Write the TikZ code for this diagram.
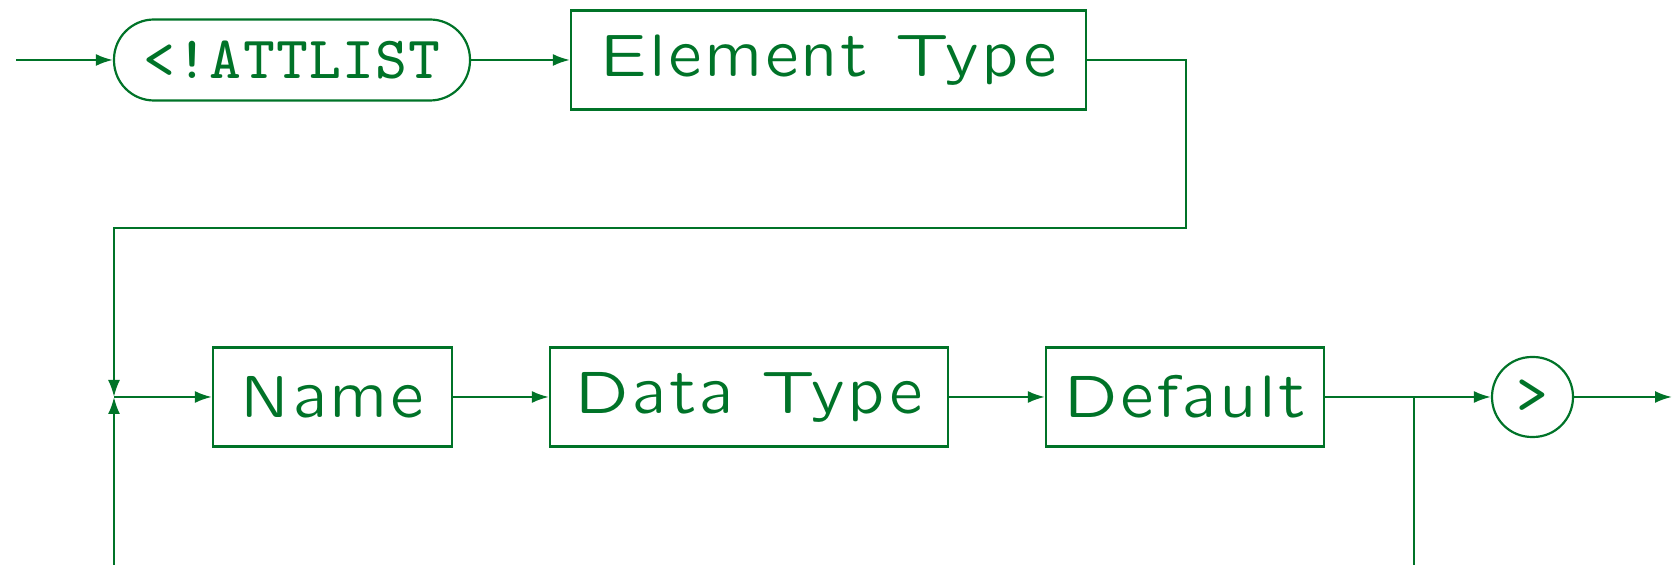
\documentclass[tikz,border=0pt]{standalone}
\usepackage{fontspec}
\usetikzlibrary{arrows.meta}
\newfontfamily\lsans{lmsansquot8-regular}[Extension=.otf, LetterSpace=4]
\newfontfamily\lmono{lmmono8-regular}[Extension=.otf, LetterSpace=2]
\definecolor{dg}{RGB}{0,115,40}
\begin{document}
\begin{tikzpicture}[x=0.5pt,y=-0.5pt,
  line/.style={draw=dg, line width=1.1pt},
  arr/.style={line, -{Latex[length=8.5pt,width=6pt]}},
  boxn/.style={draw=dg, line width=1.1pt, rectangle, inner sep=0pt, text=dg,
    font=\fontsize{30}{36}\lsans, minimum height=49.5pt},
  termn/.style={draw=dg, line width=1.1pt, rectangle, inner sep=0pt, text=dg,
    rounded corners=20pt}
]
\path[use as bounding box] (0,0) rectangle (1672,565);
\node[termn, minimum width=178pt, minimum height=40.5pt,
  font=\fontsize{30}{36}\lmono] (attlist) at (292,60) {<!ATTLIST};
\node[boxn, minimum width=257.5pt] (elem) at (828.5,60) {Element Type};
\node[boxn, minimum width=119.5pt] (name) at (332.5,397) {Name};
\node[boxn, minimum width=199pt] (dtype) at (749,397) {Data Type};
\node[boxn, minimum width=139pt] (default) at (1185,397) {Default};
\node[termn, rounded corners=19.9pt, minimum width=40.5pt, minimum height=40pt,
  font=\fontsize{30}{36}\lmono] (gt) at (1532.5,397) {>};
\coordinate (start) at (16,60);
\coordinate (jr) at (1186,60);
\coordinate (jd) at (1186,228);
\coordinate (jl) at (114,228);
\coordinate (junc) at (114,397);
\coordinate (bl) at (114,565);
\coordinate (br) at (1414,397);
\coordinate (bb) at (1414,565);
\coordinate (end) at (1672,397);
\draw[arr] (start) -- (attlist.west);
\draw[arr] (attlist.east) -- (elem.west);
\draw[arr] (elem.east) -- (jr) -- (jd) -- (jl) -- (junc);
\draw[arr] (bl) -- (junc);
\draw[arr] (junc) -- (name.west);
\draw[arr] (name.east) -- (dtype.west);
\draw[arr] (dtype.east) -- (default.west);
\draw[arr] (default.east) -- (gt.west);
\draw[line] (br) -- (bb);
\draw[arr] (gt.east) -- (end);
\end{tikzpicture}
\end{document}
